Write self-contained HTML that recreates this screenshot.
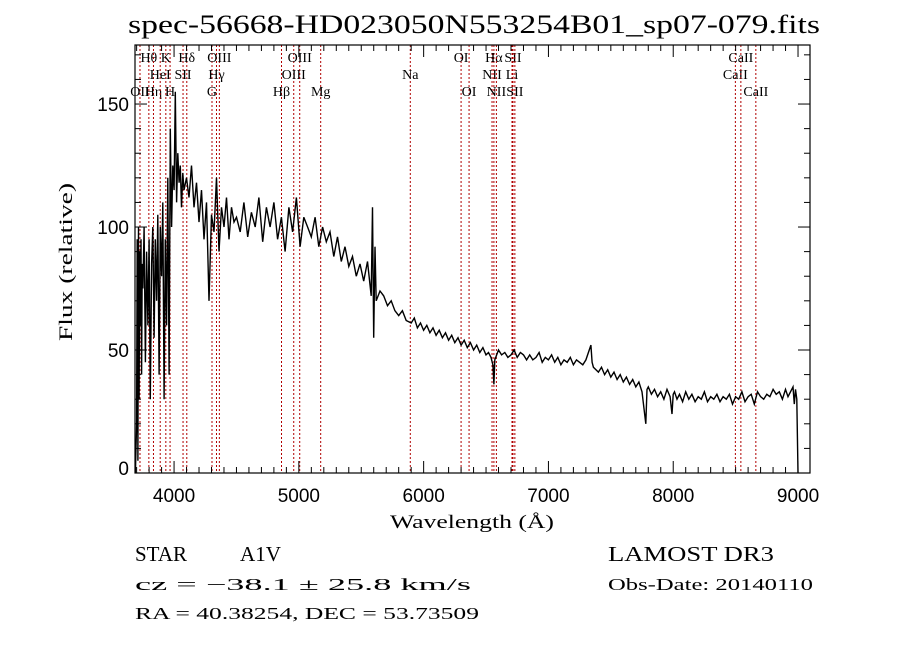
<!DOCTYPE html>
<html><head><meta charset="utf-8">
<style>
body{margin:0;background:#fff;}
svg{display:block;font-family:"Liberation Serif",serif;}
.sans{font-family:"Liberation Sans",sans-serif;}
</style></head>
<body>
<svg id="chart" width="900" height="649" viewBox="0 0 900 649">
<text x="128" y="33" font-size="26" textLength="692" lengthAdjust="spacingAndGlyphs">spec-56668-HD023050N553254B01_sp07-079.fits</text>
<g id="grid"></g>
<text x="390" y="528" font-size="19" textLength="164" lengthAdjust="spacingAndGlyphs">Wavelength (Å)</text>
<text transform="translate(72,341) rotate(-90)" font-size="19" textLength="158" lengthAdjust="spacingAndGlyphs">Flux (relative)</text>
<text x="135" y="561" font-size="21" textLength="52" lengthAdjust="spacingAndGlyphs">STAR</text>
<text x="240" y="561" font-size="21" textLength="41" lengthAdjust="spacingAndGlyphs">A1V</text>
<text x="608" y="561" font-size="21" textLength="166" lengthAdjust="spacingAndGlyphs">LAMOST DR3</text>
<text x="135" y="590" font-size="17" textLength="336" lengthAdjust="spacingAndGlyphs">cz = −38.1 ± 25.8 km/s</text>
<text x="608" y="590" font-size="17" textLength="205" lengthAdjust="spacingAndGlyphs">Obs-Date: 20140110</text>
<text x="135" y="619" font-size="17" textLength="344" lengthAdjust="spacingAndGlyphs">RA =  40.38254, DEC =  53.73509</text>
</svg>
<script>
const wave = [3690,3700,3705,3710,3715,3720,3725,3730,3735,3740,3745,3750,3760,3770,3780,3790,3800,3810,3820,3830,3840,3850,3860,3870,3880,3890,3900,3910,3920,3930,3940,3950,3960,3970,3980,3990,4000,4010,4020,4030,4040,4050,4060,4070,4080,4100,4120,4140,4160,4180,4200,4220,4240,4260,4280,4300,4320,4340,4360,4380,4400,4420,4440,4460,4480,4500,4530,4560,4590,4620,4650,4680,4710,4740,4770,4800,4830,4860,4890,4920,4950,4980,5010,5040,5070,5100,5130,5160,5190,5220,5250,5280,5310,5340,5370,5400,5430,5460,5490,5520,5550,5580,5590,5600,5610,5620,5650,5680,5710,5740,5770,5800,5830,5860,5900,5925,5950,5975,6000,6025,6050,6075,6100,6125,6150,6175,6200,6225,6250,6275,6300,6325,6350,6375,6400,6425,6450,6475,6500,6520,6540,6555,6563,6570,6600,6625,6650,6675,6700,6725,6750,6775,6800,6825,6850,6875,6900,6925,6950,6975,7000,7025,7050,7075,7100,7125,7150,7175,7200,7225,7250,7275,7300,7340,7350,7360,7400,7425,7450,7475,7500,7525,7550,7575,7600,7625,7650,7675,7700,7725,7750,7780,7790,7800,7825,7850,7875,7900,7925,7950,7975,7990,8000,8010,8030,8050,8075,8100,8125,8150,8175,8200,8225,8250,8275,8300,8325,8350,8375,8400,8425,8450,8475,8500,8525,8550,8575,8600,8625,8650,8675,8700,8725,8750,8775,8800,8825,8850,8875,8900,8920,8940,8960,8970,8980,8990,9000,9002];
const flux = [0,20,95,5,100,30,90,60,95,40,85,75,100,45,90,60,95,30,85,100,55,95,70,105,40,100,80,110,30,95,60,120,40,140,100,125,115,155,110,130,118,125,108,122,115,120,112,125,108,118,102,115,95,110,70,105,98,120,90,108,100,112,95,108,102,104,98,110,96,106,100,112,94,108,100,110,95,104,90,108,98,112,92,104,100,96,104,92,100,94,98,88,96,86,92,84,88,80,85,78,86,72,108,55,92,70,74,72,68,70,66,64,66,62,61,63,59,61,58,60,57,59,56,58,55,57,54,56,53,55,52,54,51,53,50,52,49,51,48,49,47,44,36,46,50,48,49,47,48,50,47,49,48,46,48,46,47,49,45,47,46,48,45,47,44,46,45,47,44,46,45,44,46,52,45,43,41,43,40,42,39,41,38,40,37,39,36,38,35,37,33,20,34,35,32,34,31,33,30,34,31,24,32,33,30,32,29,33,30,32,29,31,30,33,29,31,30,32,29,31,30,32,28,31,30,33,29,31,32,28,33,31,30,32,31,34,32,33,30,34,31,33,35,28,34,30,0];
const lineWaves = [3727,3798,3835,3889,3934,3968,4072,4102,4304,4340,4363,4861,4959,5007,5175,5893,6300,6364,6548,6563,6583,6708,6716,6731,8498,8542,8662];
const lineLabels = ["OII","Hθ","Hη","HeI","K","H","SII","Hδ","G","Hγ","OIII","Hβ","OIII","OIII","Mg","Na","OI","OI","NII","Hα","NII","Li","SII","SII","CaII","CaII","CaII"];
const lineRows = [2,0,2,1,0,2,1,0,2,1,0,2,1,0,2,1,0,2,1,0,2,1,0,2,1,0,2];
const xTicks = [4000,5000,6000,7000,8000,9000];
const yTicks = [0,50,100,150];

const L=135,R=810,T=45,B=473,XMIN=3687,XMAX=9096,YMAX=174;
const sx=w=>L+(w-XMIN)/(XMAX-XMIN)*(R-L);
const sy=v=>B-v/YMAX*(B-T);
const NS="http://www.w3.org/2000/svg";
const g=document.getElementById('grid');
function mk(tag,at){const e=document.createElementNS(NS,tag);for(const k in at)e.setAttribute(k,at[k]);g.appendChild(e);return e;}

lineWaves.forEach((w,i)=>{
  const x=sx(w);
  const ln=mk('line',{x1:x,x2:x,y1:T,y2:B,stroke:'#b00000','stroke-width':1,'stroke-dasharray':'2,2'});
  
  
  const t=mk('text',{x:x,y:62+lineRows[i]*17,'text-anchor':'middle','font-size':14});
  t.textContent=lineLabels[i];
  
  
});

let d='';
wave.forEach((w,i)=>{d+=(i?'L':'M')+sx(w).toFixed(1)+','+sy(flux[i]).toFixed(1);});
const p=mk('path',{d:d,fill:'none',stroke:'#000','stroke-width':1.4});



const ax=mk('rect',{x:L,y:T,width:R-L,height:B-T,fill:'none',stroke:'#000','stroke-width':1.2});



for(let w=3700;w<=XMAX;w+=100){
  const x=sx(w),maj=w%1000===0,len=maj?12:6;
  mk('line',{x1:x,x2:x,y1:B,y2:B-len,stroke:'#000'});
  mk('line',{x1:x,x2:x,y1:T,y2:T+len,stroke:'#000'});
}
for(let v=0;v<=YMAX;v+=10){
  const y=sy(v),maj=v%50===0,len=maj?12:6;
  mk('line',{x1:L,x2:L+len,y1:y,y2:y,stroke:'#000'});
  mk('line',{x1:R,x2:R-len,y1:y,y2:y,stroke:'#000'});
}
xTicks.forEach(w=>{
  const t=mk('text',{x:sx(w),y:502,'text-anchor':'middle','font-size':19});
  t.setAttribute('class','sans');
  t.textContent=w;
  
  
});
yTicks.forEach(v=>{
  const t=mk('text',{x:129,y:v===0?sy(v)+2:sy(v)+7,'text-anchor':'end','font-size':19});
  t.setAttribute('class','sans');
  t.textContent=v;
  
  
});
</script>
</body></html>
